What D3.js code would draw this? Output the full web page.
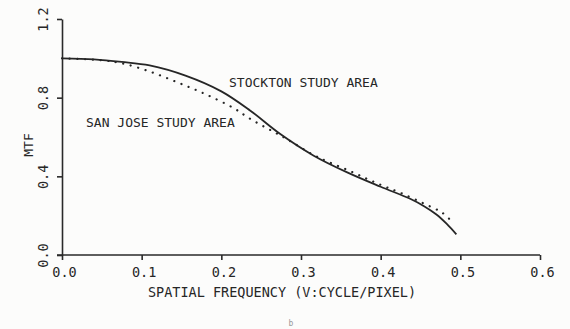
<!DOCTYPE html>
<html lang="en">
<head>
    <meta charset="UTF-8">
    <title>MTF</title>
    <style type="text/css">
        body { margin:0; background:#fcfcfb }
        svg text { font-family:'DejaVu Sans Mono', monospace; fill:#262626 }
        .axis path, .axis line { stroke:#2a2a2a; stroke-width:1.6 }
    </style>
</head>
<body>
<script src="https://d3js.org/d3.v7.min.js"></script>
<script>
    var width = 570,
        height = 329;

    // spatial frequency (cycle/pixel) and MTF values
    var stocktonX = [0.00, 0.04, 0.075, 0.11, 0.155, 0.20, 0.236, 0.274, 0.316, 0.358, 0.40, 0.437, 0.455, 0.47, 0.483, 0.495];
    var stocktonY = [1.000, 0.995, 0.982, 0.964, 0.912, 0.832, 0.735, 0.615, 0.505, 0.420, 0.347, 0.286, 0.247, 0.206, 0.158, 0.105];

    var sanJoseX = [0.00, 0.05, 0.075, 0.11, 0.146, 0.18, 0.215, 0.236, 0.259, 0.282, 0.316, 0.337, 0.362, 0.383, 0.404, 0.425, 0.454, 0.477, 0.487];
    var sanJoseY = [1.000, 0.990, 0.975, 0.933, 0.876, 0.818, 0.748, 0.693, 0.641, 0.590, 0.508, 0.469, 0.426, 0.387, 0.350, 0.316, 0.262, 0.216, 0.180];

    var xTicks = [0, 0.1, 0.2, 0.3, 0.4, 0.5, 0.6],
        yTicks = [0, 0.4, 0.8, 1.2];

    var xScale = d3.scaleLinear().domain([0, 0.6]).range([62, 540]),
        yScale = d3.scaleLinear().domain([0, 1.2]).range([255, 19]);

    var svg = d3.select('body').append('svg')
        .attr('width', width)
        .attr('height', height);

    var fmt = d3.format('.1f');

    var xAxis = d3.axisBottom(xScale).tickValues(xTicks).tickSize(5).tickSizeOuter(0).tickFormat(fmt),
        yAxis = d3.axisLeft(yScale).tickValues(yTicks).tickSize(5).tickSizeOuter(0).tickFormat(fmt);

    var gx = svg.append('g')
        .attr('class', 'axis x-axis')
        .attr('transform', 'translate(0,' + yScale(0) + ')')
        .call(xAxis);
    gx.select('.domain').attr('d', 'M' + (xScale(0) - 5) + ',0H' + xScale(0.6));
    gx.selectAll('text')
        .attr('y', 12)
        .attr('dx', 2)
        .style('font-size', '13.5px');

    var gy = svg.append('g')
        .attr('class', 'axis y-axis')
        .attr('transform', 'translate(' + xScale(0) + ',0)')
        .call(yAxis);
    gy.selectAll('text')
        .attr('transform', 'rotate(-90)')
        .attr('x', 0)
        .attr('y', -19)
        .attr('dy', '0.35em')
        .attr('text-anchor', 'middle')
        .style('font-size', '13.5px');

    function toPoints(xs, ys) {
        return xs.map(function(d, i) { return [d, ys[i]]; });
    }

    var line = d3.line()
        .x(function(d) { return xScale(d[0]); })
        .y(function(d) { return yScale(d[1]); })
        .curve(d3.curveCatmullRom.alpha(0.5));

    svg.append('path')
        .attr('d', line(toPoints(sanJoseX, sanJoseY)))
        .attr('fill', 'none')
        .attr('stroke', '#262626')
        .attr('stroke-width', 2.2)
        .attr('stroke-linecap', 'round')
        .attr('stroke-dasharray', '0.1,7.6');

    svg.append('path')
        .attr('d', line(toPoints(stocktonX, stocktonY)))
        .attr('fill', 'none')
        .attr('stroke', '#262626')
        .attr('stroke-width', 1.8);

    svg.append('text')
        .attr('x', 229).attr('y', 87)
        .style('font-size', '13px')
        .text('STOCKTON STUDY AREA');

    svg.append('text')
        .attr('x', 86).attr('y', 127)
        .style('font-size', '13px')
        .text('SAN JOSE STUDY AREA');

    svg.append('text')
        .attr('x', (xScale(0) + xScale(0.6)) / 2 - 19).attr('y', 297)
        .attr('text-anchor', 'middle')
        .style('font-size', '13.5px')
        .text('SPATIAL FREQUENCY (V:CYCLE/PIXEL)');

    svg.append('text')
        .attr('transform', 'translate(28,145) rotate(-90)')
        .attr('text-anchor', 'middle')
        .attr('dy', '0.35em')
        .style('font-size', '13px')
        .text('MTF');

    svg.append('text')
        .attr('x', 291).attr('y', 326)
        .attr('text-anchor', 'middle')
        .style('font-size', '8px')
        .style('fill', '#999')
        .text('b');
</script>
</body>
</html>
